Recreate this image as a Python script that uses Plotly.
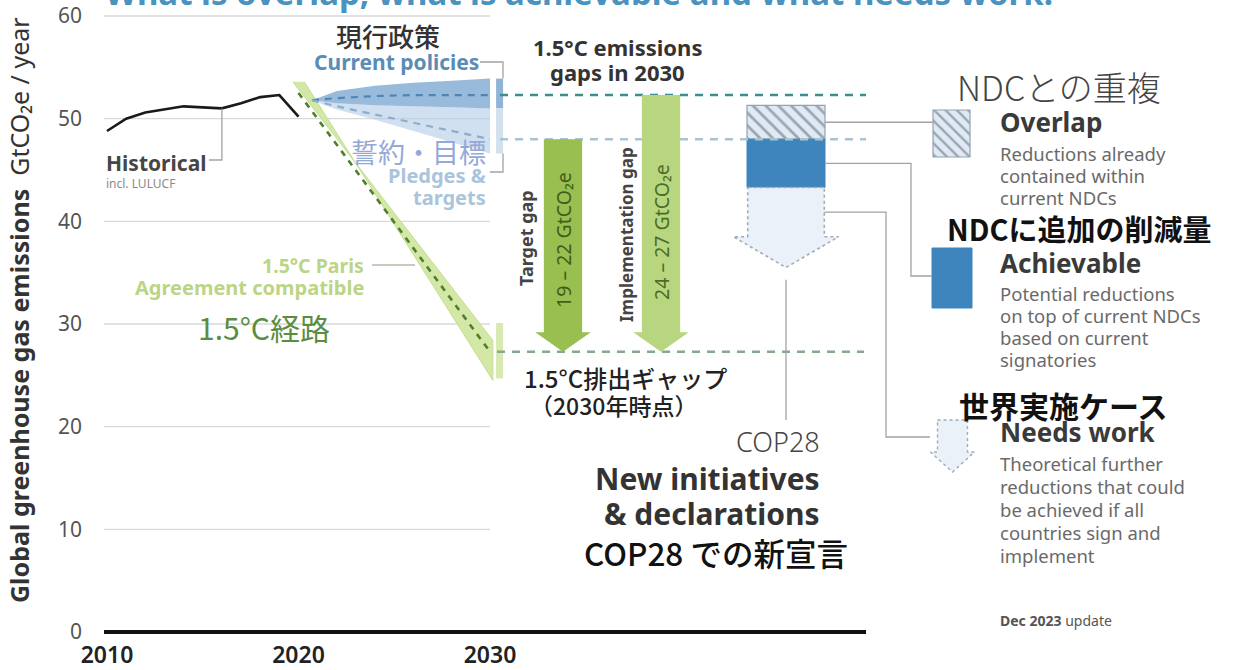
import plotly.graph_objects as go

# ---------------- data ----------------
hist_years = list(range(2010, 2021))
hist_values = [48.8, 50.0, 50.6, 50.9, 51.2, 51.1, 51.0, 51.5, 52.1, 52.3, 50.2]

# 1.5°C Paris-compatible pathway (central line and shaded range)
path_years = [2020, 2030]
path_values = [52.5, 27.3]
band_upper_years = [2019.7, 2030.15]
band_upper = [53.6, 28.4]
band_lower_years = [2020.3, 2030.15]
band_lower = [53.6, 24.5]
range_2030_15 = [24.7, 30.1]

# current policies / pledges projections
fan_years = [2020.7, 2022, 2024, 2026, 2028, 2030]
cp_upper = [51.8, 52.7, 53.2, 53.5, 53.7, 53.9]
cp_mid = [51.8, 52.0, 52.2, 52.3, 52.3, 52.3]
cp_lower = [51.8, 51.5, 51.3, 51.2, 51.1, 51.0]
pl_mid = [51.8, 51.2, 50.4, 49.6, 48.8, 48.0]
pl_lower = [51.8, 50.9, 49.9, 48.8, 47.7, 46.6]

level_current = cp_mid[-1]
level_pledges = pl_mid[-1]
level_15 = path_values[-1]

gap_labels = ["19 – 22 GtCO₂e", "24 – 27 GtCO₂e"]
gap_names = ["Target gap", "Implementation gap"]

# COP28 initiatives stack (GtCO2e/yr levels in 2030)
cop_overlap = [level_pledges, 51.3]
cop_achievable = [43.3, level_pledges]
cop_needs_work_tip = 35.5

y_ticks = [0, 10, 20, 30, 40, 50, 60]
x_ticks = [2010, 2020, 2030]

# ---------------- layout geometry ----------------
W, H = 1247, 670
X0_PX, PX_YR = 107, 19.15      # pixel of 2010, pixels per year
Y0_PX, PX_U = 632, 10.267      # pixel of 0, pixels per GtCO2e
ML, MB = 100, 35


def xd(px):
    return 2010 + (px - X0_PX) / PX_YR


def yd(py):
    return (Y0_PX - py) / PX_U


x_range = [xd(ML), xd(W)]
y_range = [yd(H - MB), yd(0)]

FONT = "Noto Sans, Noto Sans CJK JP, sans-serif"
JP = "Noto Sans CJK JP, Noto Sans, sans-serif"

fig = go.Figure()

# gridlines (left chart part only)
shapes = []
for t in y_ticks[1:]:
    shapes.append(dict(type="line", xref="x", yref="y", x0=xd(104), x1=2030,
                       y0=t, y1=t, line=dict(color="#d9d9d9", width=1.3), layer="below"))
shapes.append(dict(type="line", xref="x", yref="y", x0=xd(104), x1=xd(866),
                   y0=0, y1=0, line=dict(color="#111111", width=4)))

# 1.5°C band
fig.add_trace(go.Scatter(
    x=band_upper_years + band_lower_years[::-1],
    y=band_upper + band_lower[::-1],
    fill="toself", fillcolor="#d3e8a6", mode="lines",
    line=dict(color="#c4df8f", width=1), hoverinfo="skip"))
fig.add_trace(go.Scatter(x=path_years, y=path_values, mode="lines",
                         line=dict(color="#4f7f2c", width=2.6, dash="6px,6px"),
                         hoverinfo="skip"))

# current policies / pledges fans
fig.add_trace(go.Scatter(x=fan_years + fan_years[::-1], y=cp_lower + pl_lower[::-1],
                         fill="toself", fillcolor="rgba(176,203,230,0.6)", mode="none",
                         hoverinfo="skip"))
fig.add_trace(go.Scatter(x=fan_years + fan_years[::-1], y=cp_upper + cp_lower[::-1],
                         fill="toself", fillcolor="rgba(110,158,204,0.7)", mode="none",
                         hoverinfo="skip"))
fig.add_trace(go.Scatter(x=fan_years, y=cp_mid, mode="lines",
                         line=dict(color="#4f84b4", width=2.2, dash="7px,6px"),
                         hoverinfo="skip"))
fig.add_trace(go.Scatter(x=fan_years, y=pl_mid, mode="lines",
                         line=dict(color="#8cadc9", width=2.2, dash="7px,6px"),
                         hoverinfo="skip"))

# 2030 range bars
bar_x = 2030.5
fig.add_trace(go.Scatter(x=[bar_x, bar_x], y=[cp_lower[-1], cp_upper[-1]], mode="lines",
                         line=dict(color="#8fb4d8", width=7), hoverinfo="skip"))
fig.add_trace(go.Scatter(x=[bar_x, bar_x], y=[pl_lower[-1], cp_lower[-1]], mode="lines",
                         line=dict(color="#d3e1ee", width=7), hoverinfo="skip"))
fig.add_trace(go.Scatter(x=[bar_x, bar_x], y=range_2030_15, mode="lines",
                         line=dict(color="#d8eab2", width=7), hoverinfo="skip"))

# historical emissions
fig.add_trace(go.Scatter(x=hist_years, y=hist_values, mode="lines",
                         line=dict(color="#1a1a1a", width=2.6), hoverinfo="skip"))

# 2030 reference levels
lvl_x = [xd(500), xd(866)]
fig.add_trace(go.Scatter(x=lvl_x, y=[level_current] * 2, mode="lines",
                         line=dict(color="#3a8f8c", width=2.6, dash="8px,7px"), hoverinfo="skip"))
fig.add_trace(go.Scatter(x=lvl_x, y=[level_pledges] * 2, mode="lines",
                         line=dict(color="#a9c3d3", width=2.6, dash="8px,7px"), hoverinfo="skip"))
fig.add_trace(go.Scatter(x=[xd(497), xd(864)], y=[level_15] * 2, mode="lines",
                         line=dict(color="#86a98d", width=2.6, dash="8px,7px"), hoverinfo="skip"))


def down_arrow(xc, top, tip, shaft_hw, head_hw, head_h):
    neck = tip + head_h
    xs = [xc - shaft_hw, xc + shaft_hw, xc + shaft_hw, xc + head_hw, xc,
          xc - head_hw, xc - shaft_hw, xc - shaft_hw]
    ys = [top, top, neck, neck, tip, neck, neck, top]
    return xs, ys


# gap arrows
gap_tops = [level_pledges, level_current]
gap_x = [xd(563), xd(661)]
gap_colors = ["#98bf4f", "#b7d67f"]
for xc, top, col in zip(gap_x, gap_tops, gap_colors):
    xs, ys = down_arrow(xc, top, level_15, 1.0, 1.45, 1.9)
    fig.add_trace(go.Scatter(x=xs, y=ys, fill="toself", fillcolor=col, mode="none",
                             hoverinfo="skip"))

# COP28 stack
cop_x = xd(786)
cop_w = 78 / PX_YR
fig.add_trace(go.Bar(x=[cop_x], y=[cop_overlap[1] - cop_overlap[0]], base=[cop_overlap[0]],
                     width=cop_w,
                     marker=dict(color="#dfeaf4",
                                 pattern=dict(shape="\\", fgcolor="#9aa5b0", bgcolor="#dfeaf4",
                                              size=9, solidity=0.3, fillmode="replace"),
                                 line=dict(color="#93a3b2", width=1.2)),
                     hoverinfo="skip"))
fig.add_trace(go.Bar(x=[cop_x], y=[cop_achievable[1] - cop_achievable[0]],
                     base=[cop_achievable[0]], width=cop_w,
                     marker=dict(color="#3f85bd", line=dict(color="#3f85bd", width=1)),
                     hoverinfo="skip"))
xs, ys = down_arrow(cop_x, cop_achievable[0], cop_needs_work_tip, 2.0, 2.75, 3.0)
fig.add_trace(go.Scatter(x=xs, y=ys, fill="toself", fillcolor="#eaf1f8", mode="lines",
                         line=dict(color="#9eabb8", width=1.6, dash="dot"), hoverinfo="skip"))

# legend swatches
icon_x = xd(951.5)
fig.add_trace(go.Bar(x=[icon_x], y=[yd(110) - yd(157)], base=[yd(157)], width=37 / PX_YR,
                     marker=dict(color="#dfeaf4",
                                 pattern=dict(shape="\\", fgcolor="#9aa5b0", bgcolor="#dfeaf4",
                                              size=8, solidity=0.3, fillmode="replace"),
                                 line=dict(color="#93a3b2", width=1.2)),
                     hoverinfo="skip"))
fig.add_trace(go.Bar(x=[xd(952)], y=[yd(248) - yd(308)], base=[yd(308)], width=40 / PX_YR,
                     marker=dict(color="#3f85bd", line=dict(color="#3f85bd", width=1)),
                     hoverinfo="skip"))
xs, ys = down_arrow(xd(952.5), yd(420), yd(472), 15 / PX_YR, 22 / PX_YR, 20 / PX_U)
fig.add_trace(go.Scatter(x=xs, y=ys, fill="toself", fillcolor="#eaf1f8", mode="lines",
                         line=dict(color="#9eabb8", width=1.4, dash="dot"), hoverinfo="skip"))

# connector lines
conn = dict(mode="lines", line=dict(color="#a3a3a3", width=1.3), hoverinfo="skip")
ov_mid = sum(cop_overlap) / 2
ac_mid = sum(cop_achievable) / 2
nw_mid = (cop_achievable[0] + cop_needs_work_tip + 3.0) / 2
fig.add_trace(go.Scatter(x=[cop_x + cop_w / 2, xd(933)], y=[ov_mid, ov_mid], **conn))
fig.add_trace(go.Scatter(x=[cop_x + cop_w / 2, xd(911), xd(911), xd(932)],
                         y=[ac_mid, ac_mid, yd(276), yd(276)], **conn))
fig.add_trace(go.Scatter(x=[cop_x + 2.0, xd(886), xd(886), xd(930)],
                         y=[nw_mid, nw_mid, yd(437), yd(437)], **conn))
fig.add_trace(go.Scatter(x=[cop_x, cop_x], y=[cop_needs_work_tip - 1.2, yd(420)], **conn))
fig.add_trace(go.Scatter(x=[hist_years[6], hist_years[6], xd(209)],
                         y=[hist_values[6], yd(160), yd(160)], **conn))
fig.add_trace(go.Scatter(x=[xd(372), xd(415)], y=[yd(265), yd(265)],
                         mode="lines", line=dict(color="#b7b7a8", width=1.3), hoverinfo="skip"))
fig.add_trace(go.Scatter(x=[xd(480), xd(503), xd(503)], y=[yd(62), yd(62), cp_upper[-1]],
                         **conn))
fig.add_trace(go.Scatter(x=[xd(503), xd(503), xd(490)], y=[pl_lower[-1], yd(172), yd(172)],
                         **conn))

# ---------------- text ----------------
ann = []


def txt(s, px, py, size, color, anchor="left", font=FONT, angle=0, weight=None):
    f = dict(size=size, color=color, family=font)
    if weight is not None:
        f["weight"] = weight
    ann.append(dict(text=s, x=xd(px), y=yd(py), xref="x", yref="y", xanchor=anchor,
                    yanchor="middle", showarrow=False, font=f, textangle=angle))


txt("現行政策", 388, 35, 26, "#333333", "center", JP, weight=500)
txt("<b>Current policies</b>", 396, 62, 21, "#5a8cb6", "center")
txt("誓約・目標", 418, 151, 27, "#93a9d8", "center", JP)
txt("<b>Pledges &</b>", 488, 175, 20, "#aac4dc", "right")
txt("<b>targets</b>", 488, 197, 20, "#aac4dc", "right")
txt("<b>Historical</b>", 104, 163, 21, "#464646")
txt("incl. LULUCF", 104, 183, 12, "#8a8a8a")
txt("<b>1.5°C Paris</b>", 366, 265, 19.5, "#bcd585", "right")
txt("<b>Agreement compatible</b>", 366, 287, 20, "#bcd585", "right")
txt("1.5°C経路", 264, 327, 30, "#5c8d3f", "center", JP)
txt("<b>1.5°C emissions</b>", 617, 47, 22, "#333333", "center")
txt("<b>gaps in 2030</b>", 617, 72, 22, "#333333", "center")
txt("<b>" + gap_names[0] + "</b>", 526, 238, 18, "#444444", "center", angle=-90)
txt(gap_labels[0], 563, 240, 19.5, "#3f5e1c", "center", angle=-90)
txt("<b>" + gap_names[1] + "</b>", 626, 235, 17, "#444444", "center", angle=-90)
txt(gap_labels[1], 661, 232, 19.5, "#4d6d25", "center", angle=-90)
txt("1.5°C排出ギャップ", 625, 377, 24, "#222222", "center", JP, weight=500)
txt("（2030年時点）", 613, 405, 23, "#222222", "center", JP, weight=500)
txt("COP28", 822, 441, 27, "#444444", "right", weight=300)
txt("<b>New initiatives</b>", 822, 478, 30, "#333333", "right")
txt("<b>& declarations</b>", 822, 513, 30, "#333333", "right")
txt("COP28 での新宣言", 716, 552, 31.5, "#111111", "center", JP, weight=500)

txt("NDCとの重複", 955, 86, 34, "#444444", "left", JP, weight=300)
txt("<b>Overlap</b>", 998, 122, 26, "#3a3a3a")
for i, s in enumerate(["Reductions already", "contained within", "current NDCs"]):
    txt(s, 998, 153 + 22 * i, 18.5, "#6a6a6a")
txt("NDCに追加の削減量", 945, 228, 29, "#111111", "left", JP, weight=700)
txt("<b>Achievable</b>", 998, 263, 26, "#3a3a3a")
for i, s in enumerate(["Potential reductions", "on top of current NDCs", "based on current",
                       "signatories"]):
    txt(s, 998, 293 + 22 * i, 18.5, "#6a6a6a")
txt("世界実施ケース", 957, 405, 30, "#111111", "left", JP, weight=700)
txt("<b>Needs work</b>", 998, 432, 26, "#3a3a3a")
for i, s in enumerate(["Theoretical further", "reductions that could", "be achieved if all",
                       "countries sign and", "implement"]):
    txt(s, 998, 463 + 23 * i, 18.5, "#6a6a6a")
txt("<b>Dec 2023</b> update", 998, 620, 14, "#555555")

# y-axis title
ann.append(dict(text="<b>Global greenhouse gas emissions</b>  GtCO₂e / year",
                x=(19 - ML) / (W - ML), xref="paper", y=yd(310), yref="y",
                textangle=-90, showarrow=False, xanchor="center", yanchor="middle",
                font=dict(size=25, color="#333333", family=FONT)))
# heading (partly above the page)
ann.append(dict(text="<b>What is overlap, what is achievable and what needs work.</b>",
                x=(103 - ML) / (W - ML), xref="paper", y=1, yref="paper",
                xanchor="left", yanchor="bottom", yshift=-17, showarrow=False,
                font=dict(size=33, color="#4a93c0", family=FONT)))

fig.update_layout(
    width=W, height=H,
    margin=dict(l=ML, r=0, t=0, b=MB),
    paper_bgcolor="white", plot_bgcolor="white",
    showlegend=False, barmode="overlay", hovermode=False,
    shapes=shapes, annotations=ann,
    xaxis=dict(range=x_range, tickvals=x_ticks, ticktext=[str(v) for v in x_ticks],
               showgrid=False, zeroline=False, showline=False, ticks="",
               tickfont=dict(size=23, color="#222222", family=FONT, weight=600),
               ticklabelstandoff=4, fixedrange=True),
    yaxis=dict(range=y_range, tickvals=y_ticks, showgrid=False, zeroline=False,
               showline=False, ticks="", tickfont=dict(size=21, color="#555555", family=FONT),
               ticklabelstandoff=17, fixedrange=True),
)

fig.write_html("out.html")
